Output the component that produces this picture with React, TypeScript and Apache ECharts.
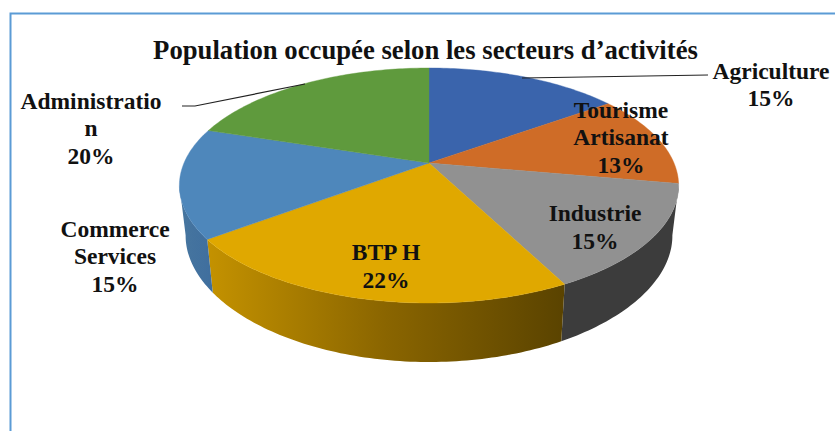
import React, { useEffect, useRef } from "react";
import * as echarts from "echarts";

const chartTitle = "Population occupée selon les secteurs d’activités";
const categories = ["Agriculture", "Tourisme\nArtisanat", "Industrie", "BTP H", "Commerce\nServices", "Administratio\nn"];
// Unrounded shares; the labels print them rounded.
const values = [15.1, 12.7, 14.6, 22.4, 15.1, 20.1];

const topColors = ["#3A64AC", "#CF6C27", "#919191", "#E0A800", "#4E87BB", "#5F9A3D"];
const sideStops: string[][] = [
  ["#2C4B80", "#2C4B80"],
  ["#9A501D", "#9A501D"],
  ["#3C3C3C", "#3C3C3C"],
  ["#C49200", "#8A6500", "#5A4300"],
  ["#47769F", "#3F6E9E"],
  ["#47722D", "#47722D"],
];
const labelCentres = [
  [771, 84.5],
  [621, 137],
  [595, 227],
  [386, 266],
  [115, 256],
  [91, 128],
];

// Pie geometry (perspective projection of a tilted disc)
const CX = 429;
const CY = 163;
const RX = 245;
const RY = 113.2;
const K = -0.1915;
const SIDE_START = 100.8;
const SIDE_END = 259.2;
const BOTTOM_SCALE = 0.975;

const total = values.reduce((a, b) => a + b, 0);
const startDeg = values.map((_, i) => (values.slice(0, i).reduce((a, b) => a + b, 0) / total) * 360);

function project(deg: number): [number, number, number] {
  const t = (deg * Math.PI) / 180;
  const u = Math.sin(t);
  const v = -Math.cos(t);
  const w = 1 + K * v;
  return [CX + (RX * u) / w, CY + (RY * v) / w, v];
}
function lower(deg: number): [number, number] {
  const [x, y, v] = project(deg);
  return [CX + (x - CX) * BOTTOM_SCALE, y + 50 + 9 * v * v];
}
function arcAngles(a: number, b: number): number[] {
  const out: number[] = [];
  for (let d = a; d < b; d += 1) out.push(d);
  out.push(b);
  return out;
}

function renderItem(params: any, api: any) {
  const i = params.dataIndex;
  const span = (api.value(1) / total) * 360;
  const a = startDeg[i];
  const b = a + span;
  const children: any[] = [];
  const sa = Math.max(a, SIDE_START);
  const sb = Math.min(b, SIDE_END);
  if (sb > sa) {
    const angs = arcAngles(sa, sb);
    const pts = [
      ...angs.map((d) => project(d).slice(0, 2)),
      ...angs.slice().reverse().map((d) => lower(d)),
    ];
    const stops = sideStops[i];
    children.push({
      type: "polygon",
      shape: { points: pts },
      style: {
        fill: new echarts.graphic.LinearGradient(
          0, 0, 1, 0,
          stops.map((c, n) => ({ offset: n / (stops.length - 1), color: c })),
        ),
      },
    });
  }
  return { type: "group", children };
}

function renderTop(params: any, api: any) {
  const i = params.dataIndex;
  const span = (api.value(1) / total) * 360;
  const a = startDeg[i];
  const pts = [[CX, CY], ...arcAngles(a, a + span).map((d) => project(d).slice(0, 2))];
  return {
    type: "polygon",
    shape: { points: pts },
    style: { fill: topColors[i], stroke: topColors[i], lineWidth: 0.4 },
  };
}

const seriesData = values.map((v, i) => ({ name: categories[i], value: [i, v] }));

export default function App() {
  const ref = useRef<HTMLDivElement>(null);
  useEffect(() => {
    document.body.style.margin = "0";
    const chart = echarts.init(ref.current!, undefined, { renderer: "svg" });
    const serif = '"Liberation Serif", "Times New Roman", serif';
    chart.setOption({
      animation: false,
      backgroundColor: "#FFFFFF",
      series: [
        { type: "custom", coordinateSystem: "none", silent: true, z: 1, renderItem, data: seriesData },
        { type: "custom", coordinateSystem: "none", silent: true, z: 2, renderItem: renderTop, data: seriesData },
      ],
      graphic: [
        {
          type: "polyline",
          z: 0,
          shape: { points: [[10.5, 431], [10.5, 13.5], [835, 13.5]] },
          style: { stroke: "#5B9BD5", lineWidth: 2, fill: "none" },
        },
        {
          type: "text",
          z: 10,
          x: 425.5,
          y: 50,
          style: { text: chartTitle, font: `bold 26.7px ${serif}`, fill: "#111", align: "center", verticalAlign: "middle" },
        },
        {
          type: "polyline",
          z: 10,
          shape: { points: [[182, 106], [195, 106], [305, 84]] },
          style: { stroke: "#222", lineWidth: 1.2, fill: "none" },
        },
        {
          type: "polyline",
          z: 10,
          shape: { points: [[522, 78], [708, 75]] },
          style: { stroke: "#222", lineWidth: 1.2, fill: "none" },
        },
        ...categories.map((c, i) => ({
          type: "text",
          z: 10,
          x: labelCentres[i][0],
          y: labelCentres[i][1],
          style: {
            text: `${c}\n${Math.round(values[i])}%`,
            font: `bold 23.5px ${serif}`,
            lineHeight: 27.5,
            fill: "#111",
            align: "center",
            verticalAlign: "middle",
          },
        })),
      ],
    });
    return () => chart.dispose();
  }, []);
  return <div ref={ref} style={{ width: 835, height: 431 }} />;
}
